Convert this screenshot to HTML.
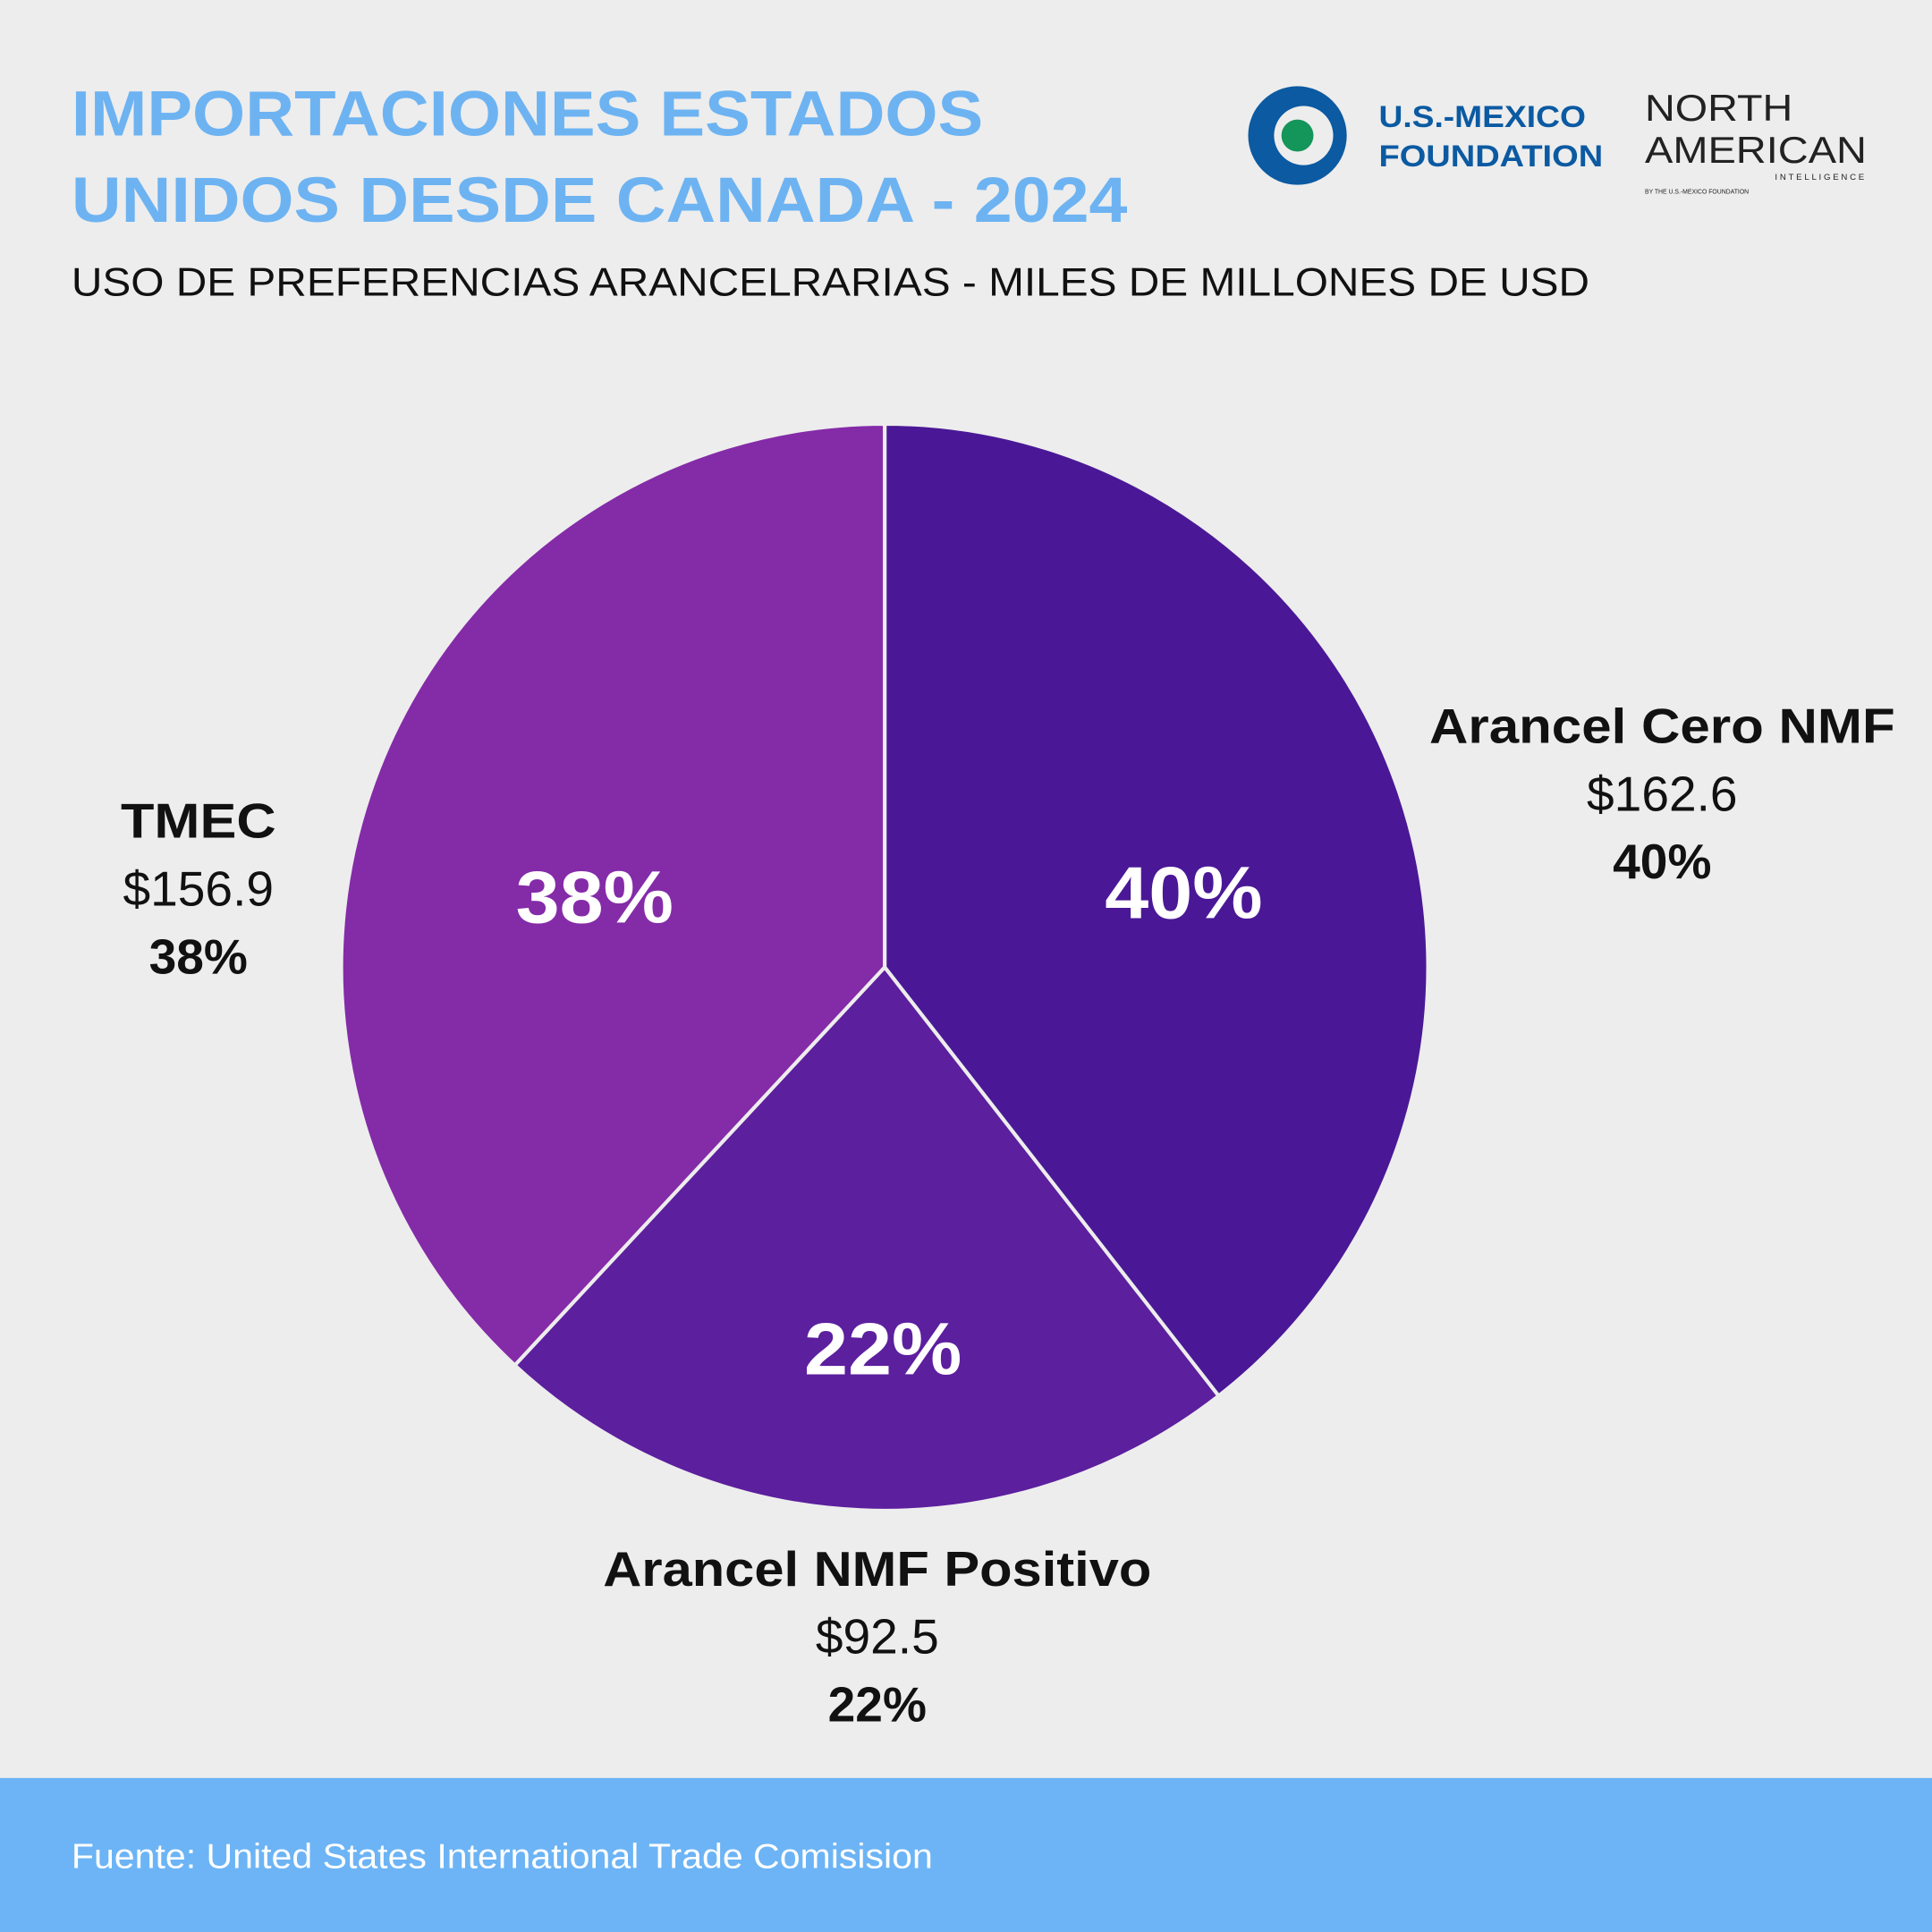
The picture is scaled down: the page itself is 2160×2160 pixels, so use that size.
<!DOCTYPE html>
<html><head><meta charset="utf-8">
<style>
html,body{margin:0;padding:0;background:#ededed;}
svg{display:block;}
text{font-family:"Liberation Sans",sans-serif;}
</style></head>
<body>
<svg id="chart" width="2160" height="2160" viewBox="0 0 1568 1568" xmlns="http://www.w3.org/2000/svg">
<rect x="0" y="0" width="1568" height="1568" fill="#ededed"/>
<text x="58" y="110" font-size="52" font-weight="bold" fill="#6db3f2" textLength="740" lengthAdjust="spacingAndGlyphs">IMPORTACIONES ESTADOS</text>
<text x="58" y="180" font-size="52" font-weight="bold" fill="#6db3f2" textLength="857" lengthAdjust="spacingAndGlyphs">UNIDOS DESDE CANADA - 2024</text>
<text x="58" y="240" font-size="32" fill="#111" textLength="1232" lengthAdjust="spacingAndGlyphs">USO DE PREFERENCIAS ARANCELRARIAS - MILES DE MILLONES DE USD</text>
<g>
<circle cx="1053" cy="110" r="40" fill="#0b5aa2"/>
<circle cx="1058" cy="110" r="24" fill="#ededed"/>
<circle cx="1053" cy="110" r="13" fill="#14955a"/>
<text x="1119" y="103" font-size="25" font-weight="bold" fill="#0b5aa2" textLength="168" lengthAdjust="spacingAndGlyphs">U.S.-MEXICO</text>
<text x="1119" y="135" font-size="25" font-weight="bold" fill="#0b5aa2" textLength="182" lengthAdjust="spacingAndGlyphs">FOUNDATION</text>
</g>
<g>
<text x="1335" y="98" font-size="30" fill="#222" textLength="120" lengthAdjust="spacingAndGlyphs">NORTH</text>
<text x="1335" y="132" font-size="30" fill="#222" textLength="180" lengthAdjust="spacingAndGlyphs">AMERICAN</text>
<text x="1515" y="146" font-size="7" fill="#222" text-anchor="end" letter-spacing="2">INTELLIGENCE</text>
<text x="1335" y="157" font-size="5" fill="#222">BY THE U.S.-MEXICO FOUNDATION</text>
</g>
<g id="slices"></g>
<g id="labels"></g>
<rect x="0" y="1443" width="1568" height="125" fill="#6cb4f5"/>
<text x="58" y="1516" font-size="28" fill="#ffffff" textLength="699" lengthAdjust="spacingAndGlyphs">Fuente: United States International Trade Comisision</text>
</svg>
<script>
const categories = ["Arancel Cero NMF", "Arancel NMF Positivo", "TMEC"];
const values = [162.6, 92.5, 156.9];
const valueLabels = ["$162.6", "$92.5", "$156.9"];
const percentLabels = ["40%", "22%", "38%"];
const colors = ["#4a1896", "#5c1f9e", "#842ba8"];
const NS = "http://www.w3.org/2000/svg";
const cx = 718, cy = 785, r = 441;
const total = values.reduce((a, b) => a + b, 0);
const slicesG = document.getElementById("slices");
const labelsG = document.getElementById("labels");
function pt(ang, rad) { return [cx + rad * Math.sin(ang), cy - rad * Math.cos(ang)]; }
function txt(x, y, s, size, weight, fill, name, len) {
  const t = document.createElementNS(NS, "text");
  t.setAttribute("x", x); t.setAttribute("y", y);
  t.setAttribute("font-size", size); t.setAttribute("font-weight", weight);
  t.setAttribute("fill", fill); t.setAttribute("text-anchor", "middle");
  if (len) { t.setAttribute("textLength", len); t.setAttribute("lengthAdjust", "spacingAndGlyphs"); }
  t.textContent = s;
  
  
  labelsG.appendChild(t);
}
const outer = [[1349, 603], [712, 1287], [161, 680]];
const catLen = [378, 445, 126];
const innerR = [0.57, 0.75, 0.61];
const innerOff = [[5, 22], [13, -20], [15, 42]];
let a0 = 0;
values.forEach((v, i) => {
  const a1 = a0 + v / total * 2 * Math.PI;
  const p0 = pt(a0, r), p1 = pt(a1, r);
  const large = (a1 - a0) > Math.PI ? 1 : 0;
  const p = document.createElementNS(NS, "path");
  p.setAttribute("d", `M${cx},${cy} L${p0[0]},${p0[1]} A${r},${r} 0 ${large} 1 ${p1[0]},${p1[1]} Z`);
  p.setAttribute("fill", colors[i]);
  p.setAttribute("stroke", "#ededed");
  p.setAttribute("stroke-width", "3");
  
  
  slicesG.appendChild(p);
  const pct = percentLabels[i];
  const mid = (a0 + a1) / 2;
  const lp = pt(mid, r * innerR[i]);
  txt(lp[0] + innerOff[i][0], lp[1] + innerOff[i][1] + 20, pct, 60, "bold", "#ffffff", "slice-percent-" + i, 128);
  const o = outer[i];
  txt(o[0], o[1], categories[i], 40, "bold", "#111", "category-label-" + i, catLen[i]);
  txt(o[0], o[1] + 55, valueLabels[i], 40, "normal", "#111", "value-label-" + i);
  txt(o[0], o[1] + 110, pct, 40, "bold", "#111", "percent-label-" + i);
  a0 = a1;
});
</script>
</body></html>
